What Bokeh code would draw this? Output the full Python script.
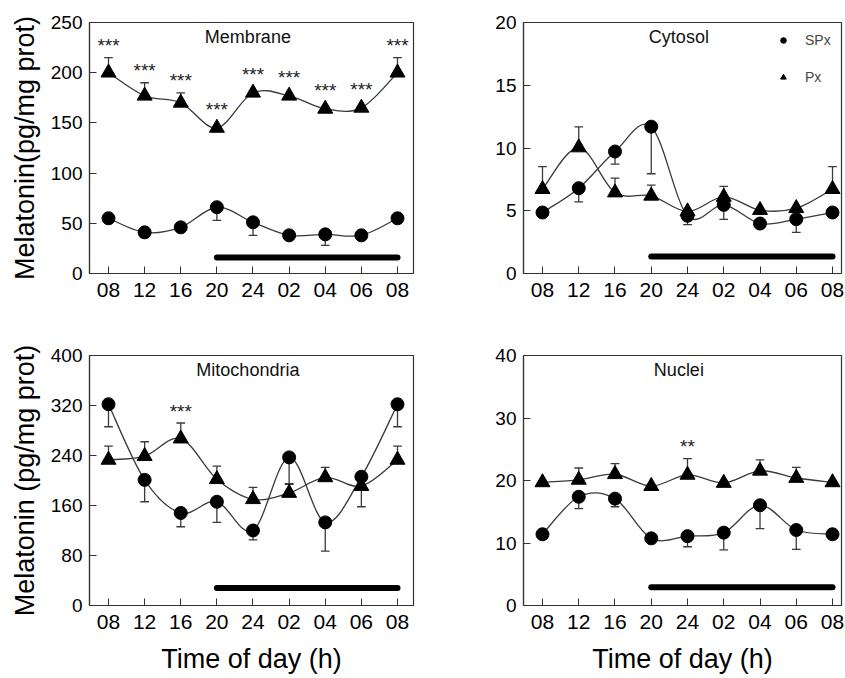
from bokeh.plotting import figure
from bokeh.layouts import column, row
from bokeh.models import Range1d, FixedTicker, Legend, LegendItem
from bokeh.core.properties import value
from bokeh.embed import file_html
from bokeh.resources import INLINE

FONT = "Liberation Sans"

x_labels = ["08", "12", "16", "20", "24", "02", "04", "06", "08"]
x_idx = list(range(len(x_labels)))

# Membrane
mem_spx = [55, 41, 46, 66, 51, 38, 39, 38, 55]
mem_spx_err = [0, 0, 0, 13, 13, 0, 11, 0, 0]
mem_px = [200, 177, 170, 145, 180, 177, 164, 165, 200]
mem_px_err = [15, 13, 10, 0, 0, 0, 0, 0, 15]
mem_stars = ["***"] * 9

# Cytosol
cyt_spx = [4.86, 6.8, 9.72, 11.7, 4.6, 5.47, 3.98, 4.33, 4.86]
cyt_spx_err = [0, 1.1, 1.0, 3.75, 0.7, 1.15, 0, 1.05, 0]
cyt_px = [6.72, 10.04, 6.45, 6.19, 4.94, 6.1, 5.05, 5.2, 6.72]
cyt_px_err = [1.8, 1.65, 1.15, 0.85, 0, 0.85, 0, 0, 1.8]
cyt_stars = [""] * 9

# Mitochondria
mit_spx = [322, 201, 148, 166, 120, 237, 133, 206, 322]
mit_spx_err = [36, 35, 22, 33, 15, 43, 46, 48, 36]
mit_px = [233, 239, 267, 202, 170, 180, 205, 191, 233]
mit_px_err = [22, 23, 25, 21, 19, 15, 16, 0, 22]
mit_stars = ["", "", "***", "", "", "", "", "", ""]

# Nuclei
nuc_spx = [11.4, 17.4, 17.1, 10.75, 11.1, 11.66, 16.04, 12.08, 11.4]
nuc_spx_err = [0, 1.9, 1.3, 0, 1.7, 2.75, 3.75, 3.1, 0]
nuc_px = [19.7, 20.1, 21.0, 19.1, 20.9, 19.6, 21.55, 20.4, 19.7]
nuc_px_err = [0, 1.9, 1.7, 0, 2.6, 0, 1.75, 1.7, 0]
nuc_stars = ["", "", "", "", "**", "", "", "", ""]

night_start, night_end = 3, 8

LINE_COL = "#3a3a3a"
NAN = float("nan")


def spline(p, xs, ys):
    n = len(xs)
    x0, y0, x1, y1, cx0, cy0, cx1, cy1 = [], [], [], [], [], [], [], []
    for i in range(n - 1):
        im = max(i - 1, 0)
        ip2 = min(i + 2, n - 1)
        x0.append(xs[i]); y0.append(ys[i])
        x1.append(xs[i + 1]); y1.append(ys[i + 1])
        cx0.append(xs[i] + (xs[i + 1] - xs[im]) / 6.0)
        cy0.append(ys[i] + (ys[i + 1] - ys[im]) / 6.0)
        cx1.append(xs[i + 1] - (xs[ip2] - xs[i]) / 6.0)
        cy1.append(ys[i + 1] - (ys[ip2] - ys[i]) / 6.0)
    p.bezier(x0=x0, y0=y0, x1=x1, y1=y1, cx0=cx0, cy0=cy0, cx1=cx1, cy1=cy1,
             line_color=LINE_COL, line_width=1.3)


def errbars(p, xs, ys, errs, direction):
    sx, sy0, sy1 = [], [], []
    for x, y, e in zip(xs, ys, errs):
        if e > 0:
            sx.append(x); sy0.append(y); sy1.append(y + direction * e)
    p.segment(x0=sx, y0=sy0, x1=sx, y1=sy1, line_color=LINE_COL, line_width=1.3)
    p.segment(x0=[x - 0.12 for x in sx], y0=sy1, x1=[x + 0.12 for x in sx], y1=sy1,
              line_color=LINE_COL, line_width=1.3)


def make_panel(w, h, bl, br, bt, bb, xr, ymax, ystep, title, ylabel, xlabel,
               spx, spx_err, px, px_err, stars, bar_y, legend=False):
    p = figure(width=w, height=h, x_range=Range1d(*xr), y_range=Range1d(0, ymax),
               output_backend="svg", toolbar_location=None,
               min_border_left=bl, min_border_right=br, min_border_top=bt, min_border_bottom=bb)
    p.grid.visible = False
    p.outline_line_color = "#333333"
    p.outline_line_width = 1.2
    p.background_fill_color = "white"
    p.border_fill_color = "white"

    p.xaxis.ticker = FixedTicker(ticks=x_idx)
    p.xaxis.major_label_overrides = {i: lab for i, lab in enumerate(x_labels)}
    p.yaxis.ticker = FixedTicker(ticks=list(range(0, ymax + 1, ystep)))
    for ax in (p.xaxis, p.yaxis):
        ax.axis_line_color = "#333333"
        ax.axis_line_width = 1.2
        ax.major_tick_line_color = "#333333"
        ax.major_tick_in = 7
        ax.major_tick_out = 0
        ax.minor_tick_line_color = None
        ax.major_label_text_font = FONT
        ax.major_label_text_color = "black"
        ax.axis_label_text_font = FONT
        ax.axis_label_text_font_style = "normal"
        ax.axis_label_text_font_size = "27px"
        ax.axis_label_text_color = "black"
    p.xaxis.major_label_text_font_size = "21px"
    p.yaxis.major_label_text_font_size = "19px"
    p.xaxis.major_label_standoff = 9
    p.yaxis.major_label_standoff = 7
    p.yaxis.axis_label_standoff = 8
    p.xaxis.axis_label_standoff = 12
    if ylabel:
        p.yaxis.axis_label = ylabel
    if xlabel:
        p.xaxis.axis_label = xlabel

    # title inside
    p.text(x=[(xr[0] + xr[1]) / 2 - 0.1], y=[ymax], text=[title], text_align="center",
           text_baseline="top", y_offset=4, text_font=value(FONT), text_font_size="18px",
           text_color="#111111")

    # night bar
    p.line(x=[night_start, night_end], y=[bar_y, bar_y], line_color="black",
           line_width=6, line_cap="round")

    errbars(p, x_idx, spx, spx_err, -1)
    errbars(p, x_idx, px, px_err, 1)
    spline(p, x_idx, spx)
    spline(p, x_idx, px)
    p.scatter(x=x_idx, y=spx, marker="circle", size=13, fill_color="black", line_color="black")
    p.scatter(x=x_idx, y=px, marker="triangle", size=15, fill_color="black", line_color="black")

    # significance stars
    sx_e, sy_e, st_e, sx_n, sy_n, st_n = [], [], [], [], [], []
    for x, y, e, s in zip(x_idx, px, px_err, stars):
        if s:
            if e > 0:
                sx_e.append(x); sy_e.append(y + e); st_e.append(s)
            else:
                sx_n.append(x); sy_n.append(y); st_n.append(s)
    for xs_, ys_, ts_, off in ((sx_e, sy_e, st_e, -12), (sx_n, sy_n, st_n, -18)):
        if xs_:
            p.text(x=xs_, y=ys_, text=ts_, text_align="center", text_baseline="middle",
                   y_offset=off, text_font=value(FONT), text_font_size="19px",
                   text_color="#222222")

    if legend:
        r1 = p.scatter(x=[NAN], y=[NAN], marker="circle", size=9, fill_color="black", line_color="black")
        r2 = p.scatter(x=[NAN], y=[NAN], marker="triangle", size=10, fill_color="black", line_color="black")
        lg = Legend(items=[LegendItem(label="SPx", renderers=[r1]),
                           LegendItem(label="Px", renderers=[r2])],
                    location=(253, 186), padding=0, margin=0, spacing=17,
                    glyph_width=14, glyph_height=20, label_height=20, label_standoff=15,
                    label_text_font=FONT, label_text_font_size="14px",
                    border_line_color=None, background_fill_alpha=0)
        p.add_layout(lg)
    return p


xr_left = (-0.526, 8.443)
xr_right = (-0.524, 8.248)

p1 = make_panel(420, 330, 89, 7, 22, 57, xr_left, 250, 50, "Membrane",
                "Melatonin(pg/mg prot)", None,
                mem_spx, mem_spx_err, mem_px, mem_px_err, mem_stars, 16)
p2 = make_panel(424, 330, 103, 3, 22, 57, xr_right, 20, 5, "Cytosol",
                None, None,
                cyt_spx, cyt_spx_err, cyt_px, cyt_px_err, cyt_stars, 1.35, legend=True)
p3 = make_panel(420, 346, 89, 7, 25, 70, xr_left, 400, 80, "Mitochondria",
                "Melatonin (pg/mg prot)", "Time of day (h)",
                mit_spx, mit_spx_err, mit_px, mit_px_err, mit_stars, 28)
p4 = make_panel(424, 346, 103, 3, 25, 70, xr_right, 40, 10, "Nuclei",
                None, "Time of day (h)",
                nuc_spx, nuc_spx_err, nuc_px, nuc_px_err, nuc_stars, 2.94)

layout = column(row(p1, p2), row(p3, p4))
open("out.html", "w").write(file_html(layout, INLINE))
